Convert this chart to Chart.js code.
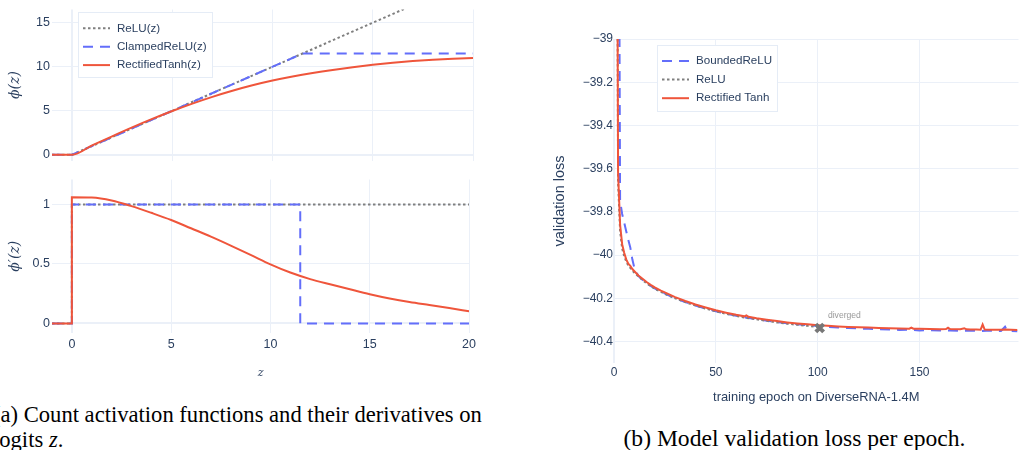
<!DOCTYPE html>
<html>
<head>
<meta charset="utf-8">
<script src="https://cdn.jsdelivr.net/npm/chart.js@4.4.1/dist/chart.umd.min.js"></script>
<style>
  body { margin: 0; width: 1028px; height: 450px; position: relative; overflow: hidden; background: #fff; }
  canvas { position: absolute; }
  .cap { position: absolute; font-family: 'Liberation Serif', 'Times New Roman', serif; font-size: 22.6px; line-height: 25px; color: #000; white-space: nowrap; }
</style>
</head>
<body>
<canvas id="phiChart" width="480" height="170" style="left:0px;top:0px"></canvas>
<canvas id="dphiChart" width="480" height="215" style="left:0px;top:170px"></canvas>
<canvas id="lossChart" width="488" height="410" style="left:540px;top:0px"></canvas>
<div class="cap" style="left:-7px;top:401.6px">(a) Count activation functions and their derivatives on<br>logits <i>z</i>.</div>
<div class="cap" style="left:594.5px;top:425.8px;width:400px;text-align:center;font-size:23.6px">(b) Model validation loss per epoch.</div>
<script>
// ---- activation functions (left panel) ----
const zTicks = [0, 5, 10, 15, 20];
const phiTicks = [0, 5, 10, 15];
const dphiTicks = [0, 0.5, 1];

const reluZ = [-1, 0, 20];
const reluPhi = [0, 0, 20];
const clampZ = [-1, 0, 11.5, 20];
const clampPhi = [0, 0, 11.5, 11.5];
const tanhZ = [-1, 0, 1, 2, 3, 4, 5, 6, 7, 8, 9, 10, 11, 12, 13, 14, 15, 16, 17, 18, 19, 20];
const tanhPhi = [0, 0, 1.06, 2.1, 3.11, 4.07, 4.97, 5.81, 6.58, 7.27, 7.89, 8.43, 8.89, 9.29, 9.64, 9.95, 10.22, 10.45, 10.64, 10.8, 10.92, 11.0];

const reluDZ = [-1, 0, 0, 20];
const reluDPhi = [0, 0, 1, 1];
const clampDZ = [-1, 0, 0, 11.5, 11.5, 20];
const clampDPhi = [0, 0, 1, 1, 0, 0];
const tanhDZ = [-1, 0, 0, 1, 2, 3, 4, 5, 6, 7, 8, 9, 10, 11, 12, 13, 14, 15, 16, 17, 18, 19, 20];
const tanhDPhi = [0, 0, 1.061, 1.058, 1.033, 0.986, 0.93, 0.87, 0.8, 0.73, 0.655, 0.577, 0.497, 0.428, 0.373, 0.329, 0.287, 0.246, 0.21, 0.18, 0.155, 0.13, 0.102];

// ---- validation loss (right panel) ----
const epochTicks = [0, 50, 100, 150];
const lossTicks = [-39, -39.2, -39.4, -39.6, -39.8, -40, -40.2, -40.4];

const epochsBounded = [1, 2, 3, 4, 5, 6, 7, 8, 9, 10, 11, 12, 14, 16, 18, 20, 23, 26, 30, 35, 40, 45, 50, 55, 60, 65, 70, 75, 80, 85, 90, 95, 100, 105, 110, 115, 120, 125, 130, 135, 140, 145, 150, 155, 160, 165, 170, 175, 180, 185, 190, 192, 193, 195, 198];
const lossBounded = [-36.0, -37.2, -39.75, -39.81, -39.85, -39.89, -39.93, -39.965, -40.02, -40.06, -40.08, -40.098, -40.115, -40.13, -40.143, -40.155, -40.17, -40.183, -40.2, -40.218, -40.234, -40.248, -40.26, -40.271, -40.281, -40.29, -40.297, -40.304, -40.31, -40.316, -40.321, -40.325, -40.329, -40.333, -40.336, -40.338, -40.34, -40.342, -40.344, -40.345, -40.347, -40.346, -40.349, -40.348, -40.35, -40.349, -40.351, -40.35, -40.352, -40.35, -40.352, -40.332, -40.35, -40.352, -40.353];

const epochsRelu = [1, 2, 3, 4, 5, 6, 7, 8, 9, 10, 12, 14, 16, 18, 20, 23, 26, 30, 35, 40, 45, 50, 55, 60, 65, 70, 75, 80, 85, 90, 95, 100, 101];
const lossRelu = [-36.5, -39.66, -39.89, -39.97, -40.005, -40.03, -40.048, -40.06, -40.072, -40.082, -40.1, -40.116, -40.131, -40.144, -40.156, -40.171, -40.184, -40.2, -40.218, -40.234, -40.248, -40.261, -40.272, -40.282, -40.291, -40.298, -40.305, -40.312, -40.318, -40.323, -40.328, -40.333, -40.336];

const epochsTanh = [1, 2, 3, 4, 5, 6, 7, 8, 9, 10, 12, 14, 16, 18, 20, 23, 26, 30, 35, 40, 45, 50, 55, 60, 64, 65, 66, 70, 75, 80, 85, 90, 95, 100, 105, 110, 115, 120, 125, 130, 135, 140, 145, 146, 147, 150, 155, 160, 163, 164, 165, 170, 172, 173, 175, 178, 180, 181, 182, 185, 190, 192, 195, 198];
const lossTanh = [-36.8, -39.62, -39.86, -39.95, -39.99, -40.02, -40.04, -40.05, -40.065, -40.075, -40.095, -40.11, -40.125, -40.138, -40.15, -40.165, -40.178, -40.195, -40.213, -40.229, -40.243, -40.256, -40.267, -40.277, -40.284, -40.28, -40.286, -40.293, -40.3, -40.306, -40.312, -40.317, -40.321, -40.325, -40.328, -40.331, -40.333, -40.335, -40.336, -40.338, -40.339, -40.34, -40.341, -40.336, -40.341, -40.342, -40.343, -40.344, -40.343, -40.337, -40.343, -40.344, -40.339, -40.344, -40.345, -40.345, -40.346, -40.322, -40.345, -40.346, -40.346, -40.345, -40.346, -40.347];

const divergedEpoch = [101];
const divergedLoss = [-40.338];

// ---- styling ----
const TXT = '#2a3f5f';
const GRID = '#EBF0F8';
const SANS = "'Liberation Sans', Arial, sans-serif";
const GREY = '#7f7f7f', BLUE = '#636EFA', RED = '#EF553B';

const pts = (xs, ys) => xs.map((x, i) => ({x: x, y: ys[i]}));
const fixTicks = arr => s => { s.ticks = arr.map(v => ({value: v})); };
const minus = v => String(v).replace('-', '\u2212');

function lineSet(label, xs, ys, color, dash, order, smooth) {
    return {
        label: label,
        data: pts(xs, ys),
        showLine: true,
        borderColor: color,
        backgroundColor: color,
        borderWidth: 2,
        borderDash: dash,
        pointRadius: 0,
        fill: false,
        clip: 0,
        order: order,
        cubicInterpolationMode: smooth ? 'monotone' : 'default'
    };
}

function grid() {
    return {
        color: GRID,
        lineWidth: c => (c.tick && c.tick.value === 0) ? 2 : 1,
        drawTicks: false
    };
}

// legend box drawn over the plot like plotly does
const boxLegend = {
    id: 'boxLegend',
    afterDraw(chart, args, o) {
        const ctx = chart.ctx;
        ctx.save();
        ctx.fillStyle = '#fff';
        ctx.fillRect(o.x, o.y, o.w, o.h);
        ctx.strokeStyle = '#E5ECF6';
        ctx.lineWidth = 1;
        ctx.strokeRect(o.x + 0.5, o.y + 0.5, o.w - 1, o.h - 1);
        ctx.font = '11.6px ' + SANS;
        ctx.textBaseline = 'middle';
        let row = 0;
        chart.data.datasets.forEach(ds => {
            if (ds.noLegend) return;
            const y = o.y + o.first + row * o.step;
            ctx.strokeStyle = ds.borderColor;
            ctx.lineWidth = 2;
            ctx.setLineDash(ds.borderDash || []);
            ctx.beginPath();
            ctx.moveTo(o.x + 5, y);
            ctx.lineTo(o.x + 32, y);
            ctx.stroke();
            ctx.setLineDash([]);
            ctx.fillStyle = TXT;
            ctx.fillText(ds.label, o.x + 39, y);
            row++;
        });
        ctx.restore();
    }
};

// small grey text next to the diverged marker
const noteText = {
    id: 'noteText',
    afterDatasetsDraw(chart, args, o) {
        if (!o.text) return;
        const ctx = chart.ctx;
        const px = chart.scales.x.getPixelForValue(o.x) + o.dx;
        const py = chart.scales.y.getPixelForValue(o.y) + o.dy;
        ctx.save();
        ctx.font = '8.6px ' + SANS;
        ctx.fillStyle = '#999';
        ctx.textAlign = 'center';
        ctx.textBaseline = 'middle';
        ctx.fillText(o.text, px, py);
        ctx.restore();
    }
};

Chart.register(boxLegend, noteText);
Chart.defaults.font.family = SANS;
Chart.defaults.animation = false;

const mathFont = {family: "'DejaVu Serif', serif", style: 'italic', size: 14};

// phi(z)
new Chart(document.getElementById('phiChart'), {
    type: 'scatter',
    data: {
        datasets: [
            lineSet('ReLU(z)', reluZ, reluPhi, GREY, [2.5, 2.5], 2, false),
            lineSet('ClampedReLU(z)', clampZ, clampPhi, BLUE, [10, 7], 1, false),
            lineSet('RectifiedTanh(z)', tanhZ, tanhPhi, RED, [], 0, true)
        ]
    },
    options: {
        responsive: false,
        layout: {padding: {top: 5, right: 7, left: 0, bottom: 0}},
        scales: {
            x: {
                type: 'linear', min: -1, max: 20,
                afterBuildTicks: fixTicks(zTicks),
                afterFit: s => { s.height = 7; },
                ticks: {display: false},
                grid: grid(),
                border: {display: false}
            },
            y: {
                min: -0.65, max: 16.5,
                afterBuildTicks: fixTicks(phiTicks),
                afterFit: s => { s.width = 52; },
                ticks: {color: TXT, font: {size: 12.5}, padding: 2, callback: v => String(v)},
                grid: grid(),
                border: {display: false},
                title: {display: true, text: '\u03d5(z)', color: TXT, font: mathFont, padding: {top: 7, bottom: 0}}
            }
        },
        plugins: {
            legend: {display: false},
            tooltip: {enabled: false},
            boxLegend: {x: 78, y: 12, w: 135, h: 66, first: 16.3, step: 18.4}
        }
    }
});

// phi'(z)
new Chart(document.getElementById('dphiChart'), {
    type: 'scatter',
    data: {
        datasets: [
            lineSet('ReLU(z)', reluDZ, reluDPhi, GREY, [2.5, 2.5], 2, false),
            lineSet('ClampedReLU(z)', clampDZ, clampDPhi, BLUE, [10, 7], 1, false),
            lineSet('RectifiedTanh(z)', tanhDZ, tanhDPhi, RED, [], 0, true)
        ]
    },
    options: {
        responsive: false,
        layout: {padding: {top: 8, right: 7, left: 0, bottom: 0}},
        scales: {
            x: {
                type: 'linear', min: -1, max: 20,
                afterBuildTicks: fixTicks(zTicks),
                afterFit: s => { s.height = 52; },
                ticks: {color: TXT, font: {size: 12.5}, padding: 4, maxRotation: 0, callback: v => String(v)},
                grid: grid(),
                border: {display: false},
                title: {display: true, text: 'z', color: TXT, font: {family: "'DejaVu Serif', serif", style: 'italic', size: 11}, padding: {top: 0, bottom: 5}}
            },
            y: {
                min: -0.08, max: 1.21,
                afterBuildTicks: fixTicks(dphiTicks),
                afterFit: s => { s.width = 52; },
                ticks: {color: TXT, font: {size: 12.5}, padding: 2, callback: v => String(v)},
                grid: grid(),
                border: {display: false},
                title: {display: true, text: '\u03d5\u2032(z)', color: TXT, font: mathFont, padding: {top: 7, bottom: 0}}
            }
        },
        plugins: {
            legend: {display: false},
            tooltip: {enabled: false}
        }
    }
});

// validation loss per epoch
const marker = {
    label: 'diverged',
    noLegend: true,
    data: pts(divergedEpoch, divergedLoss),
    pointStyle: 'crossRot',
    pointRadius: 5.5,
    borderWidth: 4,
    borderColor: '#777',
    backgroundColor: '#777',
    showLine: false,
    order: -1
};

new Chart(document.getElementById('lossChart'), {
    type: 'scatter',
    data: {
        datasets: [
            lineSet('BoundedReLU', epochsBounded, lossBounded, BLUE, [10, 7], 2, false),
            lineSet('ReLU', epochsRelu, lossRelu, GREY, [2.5, 2.5], 1, false),
            lineSet('Rectified Tanh', epochsTanh, lossTanh, RED, [], 0, false),
            marker
        ]
    },
    options: {
        responsive: false,
        layout: {padding: {top: 39, right: 0, left: 0, bottom: 0}},
        scales: {
            x: {
                type: 'linear', min: 0, max: 198.6,
                afterBuildTicks: fixTicks(epochTicks),
                afterFit: s => { s.height = 47; },
                ticks: {color: TXT, font: {size: 12}, padding: 2, maxRotation: 0},
                grid: grid(),
                border: {display: false},
                title: {display: true, text: 'training epoch on DiverseRNA-1.4M', color: TXT, font: {size: 12.9}, padding: {top: 0, bottom: 5}}
            },
            y: {
                min: -40.5, max: -39,
                afterBuildTicks: fixTicks(lossTicks),
                afterFit: s => { s.width = 74; },
                ticks: {color: TXT, font: {size: 12}, padding: 1, callback: v => minus(v)},
                grid: grid(),
                border: {display: false},
                title: {display: true, text: 'validation loss', color: TXT, font: {size: 14.5}, padding: {top: 11, bottom: 0}}
            }
        },
        plugins: {
            legend: {display: false},
            tooltip: {enabled: false},
            boxLegend: {x: 117, y: 45, w: 121, h: 67, first: 16, step: 18.6},
            noteText: {text: 'diverged', x: divergedEpoch[0], y: divergedLoss[0], dx: 24.7, dy: -12.7}
        }
    }
});
</script>
</body>
</html>
